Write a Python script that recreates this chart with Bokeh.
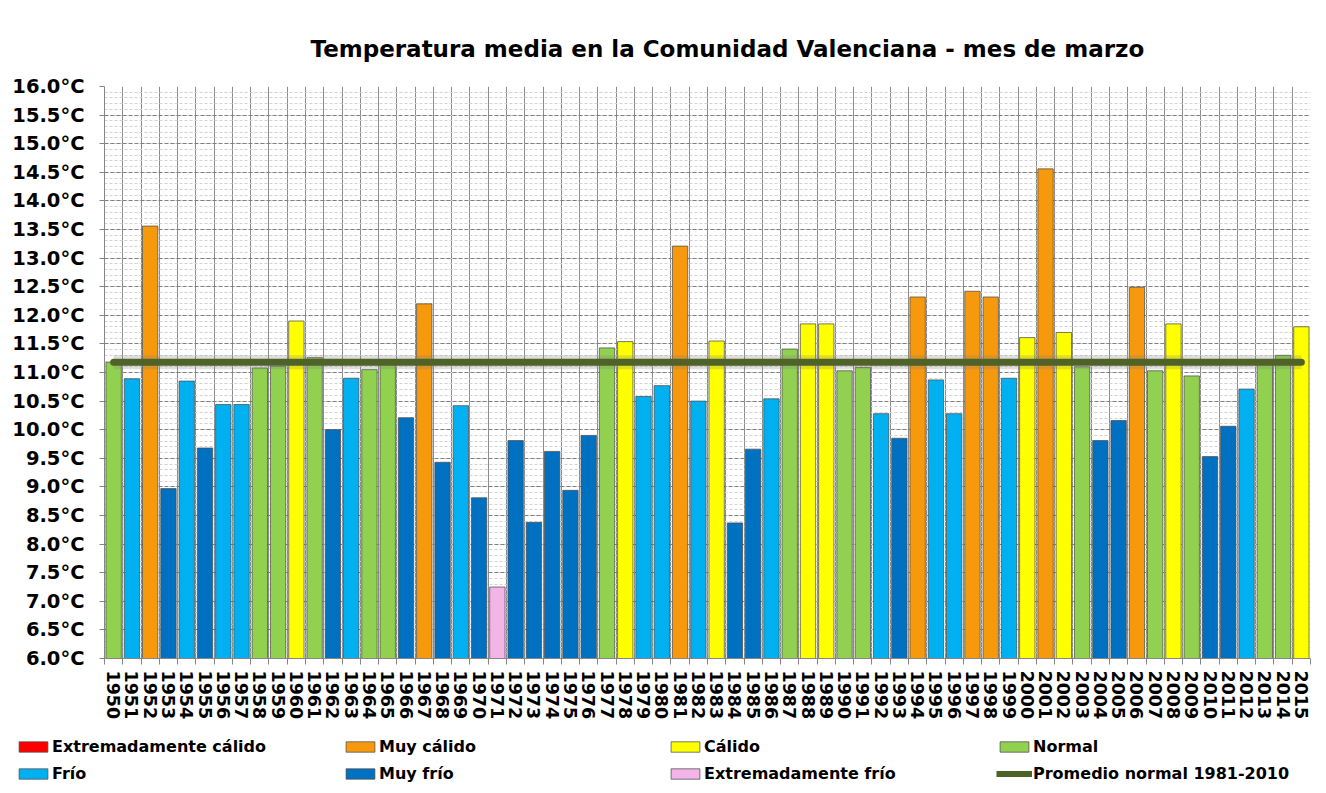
import math
from bokeh.plotting import figure
from bokeh.layouts import column
from bokeh.models import (ColumnDataSource, Range1d, FixedTicker, PrintfTickFormatter,
                          Legend, LegendItem)
from bokeh.embed import file_html
from bokeh.resources import INLINE

# ---------------- data ----------------
years = [1950, 1951, 1952, 1953, 1954, 1955, 1956, 1957, 1958, 1959,
         1960, 1961, 1962, 1963, 1964, 1965, 1966, 1967, 1968, 1969,
         1970, 1971, 1972, 1973, 1974, 1975, 1976, 1977, 1978, 1979,
         1980, 1981, 1982, 1983, 1984, 1985, 1986, 1987, 1988, 1989,
         1990, 1991, 1992, 1993, 1994, 1995, 1996, 1997, 1998, 1999,
         2000, 2001, 2002, 2003, 2004, 2005, 2006, 2007, 2008, 2009,
         2010, 2011, 2012, 2013, 2014, 2015]

temps = [11.18, 10.89, 13.56, 8.97, 10.85, 9.68, 10.44, 10.44, 11.08, 11.11,
         11.90, 11.26, 10.00, 10.90, 11.05, 11.16, 10.21, 12.20, 9.43, 10.42,
         8.81, 7.25, 9.81, 8.38, 9.62, 8.94, 9.90, 11.43, 11.54, 10.58,
         10.77, 13.21, 10.50, 11.55, 8.37, 9.66, 10.54, 11.41, 11.85, 11.85,
         11.03, 11.09, 10.28, 9.85, 12.32, 10.87, 10.28, 12.42, 12.32, 10.90,
         11.61, 14.56, 11.70, 11.10, 9.81, 10.16, 12.49, 11.03, 11.85, 10.94,
         9.53, 10.06, 10.71, 11.16, 11.30, 11.80]

classes = ["Normal", "Frío", "Muy cálido", "Muy frío", "Frío", "Muy frío", "Frío", "Frío", "Normal", "Normal",
           "Cálido", "Normal", "Muy frío", "Frío", "Normal", "Normal", "Muy frío", "Muy cálido", "Muy frío", "Frío",
           "Muy frío", "Extremadamente frío", "Muy frío", "Muy frío", "Muy frío", "Muy frío", "Muy frío", "Normal", "Cálido", "Frío",
           "Frío", "Muy cálido", "Frío", "Cálido", "Muy frío", "Muy frío", "Frío", "Normal", "Cálido", "Cálido",
           "Normal", "Normal", "Frío", "Muy frío", "Muy cálido", "Frío", "Frío", "Muy cálido", "Muy cálido", "Frío",
           "Cálido", "Muy cálido", "Cálido", "Normal", "Muy frío", "Muy frío", "Muy cálido", "Normal", "Cálido", "Normal",
           "Muy frío", "Muy frío", "Frío", "Normal", "Normal", "Cálido"]

normal_1981_2010 = 11.18
normal_label = "Promedio normal 1981-2010"

category_names = ["Extremadamente cálido", "Muy cálido", "Cálido", "Normal",
                  "Frío", "Muy frío", "Extremadamente frío"]
category_colors = ["#FF0000", "#F7990D", "#FFFF00", "#92D050",
                   "#00B0F0", "#0070C0", "#F3B4E8"]

y_ticks = [6.0, 6.5, 7.0, 7.5, 8.0, 8.5, 9.0, 9.5, 10.0, 10.5, 11.0,
           11.5, 12.0, 12.5, 13.0, 13.5, 14.0, 14.5, 15.0, 15.5, 16.0]
y_min, y_max = 6.0, 16.0

title_text = "Temperatura media en la Comunidad Valenciana - mes de marzo"

# ---------------- main chart ----------------
FONT = "DejaVu Sans"
W = 1318
FRAME_LEFT = 104
p = figure(width=W, height=735,
           x_range=Range1d(years[0] - 0.5, years[-1] + 0.5),
           y_range=Range1d(y_min, y_max),
           output_backend="svg", toolbar_location=None,
           min_border_left=FRAME_LEFT, min_border_right=8,
           min_border_top=86, min_border_bottom=77)
p.frame_align = False
p.background_fill_color = "white"
p.border_fill_color = "white"
p.outline_line_color = None

p.title.text = title_text
p.title.align = "left"
p.title.text_font = FONT
p.title.text_font_style = "bold"
p.title.text_font_size = "23px"
p.title.text_color = "#000000"
p.title.standoff = 50
p.title.offset = 206

y_minor = [round(y_min + 0.1 * i, 1) for i in range(int(round((y_max - y_min) / 0.1)) + 1)]
boundaries = [y - 0.5 for y in years] + [years[-1] + 0.5]

# y axis
p.yaxis.ticker = FixedTicker(ticks=y_ticks, minor_ticks=y_minor)
p.yaxis.formatter = PrintfTickFormatter(format="%.1f°C")
p.yaxis.major_label_text_font = FONT
p.yaxis.major_label_text_font_style = "bold"
p.yaxis.major_label_text_font_size = "19.5px"
p.yaxis.major_label_text_color = "#000000"
p.yaxis.major_tick_out = 5
p.yaxis.major_tick_in = 0
p.yaxis.minor_tick_out = 0
p.yaxis.minor_tick_in = 0
p.yaxis.major_label_standoff = 15
p.yaxis.axis_line_color = "#868686"
p.yaxis.major_tick_line_color = "#868686"

# x axis
p.xaxis.ticker = FixedTicker(ticks=years, minor_ticks=boundaries)
p.xaxis.formatter = PrintfTickFormatter(format="%d")
p.xaxis.major_label_orientation = -math.pi / 2
p.xaxis.major_label_text_font = FONT
p.xaxis.major_label_text_font_style = "bold"
p.xaxis.major_label_text_font_size = "17.5px"
p.xaxis.major_label_text_color = "#000000"
p.xaxis.major_tick_out = 0
p.xaxis.major_tick_in = 0
p.xaxis.minor_tick_out = 6
p.xaxis.minor_tick_in = 0
p.xaxis.minor_tick_line_color = "#868686"
p.xaxis.major_label_standoff = 6
p.xaxis.axis_line_color = "#868686"

# grids
p.xgrid.ticker = FixedTicker(ticks=boundaries)
p.xgrid.grid_line_color = "#8c8c8c"
p.xgrid.grid_line_width = 1
p.ygrid.grid_line_color = "#808080"
p.ygrid.grid_line_dash = "4 2"
p.ygrid.minor_grid_line_color = "#d2d2d2"
p.ygrid.minor_grid_line_dash = "3 2"

# bars
for name, color in zip(category_names, category_colors):
    xs = [y for y, c in zip(years, classes) if c == name]
    ts = [t for t, c in zip(temps, classes) if c == name]
    src = ColumnDataSource(dict(year=xs, temp=ts))
    p.vbar(x="year", top="temp", bottom=y_min, width=0.84, source=src,
           fill_color=color, line_color="#4d4d4d", line_alpha=0.75, line_width=1)

# normal line (soft shadow + line)
norm_src = ColumnDataSource(dict(year=years, val=[normal_1981_2010] * len(years)))
p.line(x="year", y="val", source=norm_src, line_color="#7f7f7f", line_alpha=0.25,
       line_width=14)
p.line(x="year", y="val", source=norm_src, line_color="#4F6228",
       line_width=7, line_cap="round")

# ---------------- legend strip ----------------
q = figure(width=W, height=58, x_range=Range1d(0, 1), y_range=Range1d(0, 1),
           output_backend="svg", toolbar_location=None,
           min_border_left=0, min_border_right=0, min_border_top=0, min_border_bottom=0,
           x_axis_type=None, y_axis_type=None)
q.frame_align = False
q.outline_line_color = None
q.background_fill_color = "white"
q.border_fill_color = "white"
q.grid.visible = False

# legend-only renderers: one element placed outside the visible range
leg_r = {}
for name, color in zip(category_names, category_colors):
    leg_r[name] = q.vbar(x=[-5], top=[-5], bottom=-6, width=0.5, fill_color=color,
                         line_color="#4d4d4d", line_alpha=0.75)
leg_r[normal_label] = q.line(x=[-6, -5], y=[-5, -5], line_color="#4F6228", line_width=6)

columns_ = [
    ["Extremadamente cálido", "Frío"],
    ["Muy cálido", "Muy frío"],
    ["Cálido", "Extremadamente frío"],
    ["Normal", normal_label],
]
col_x = [15, 342, 667, 996]
for cx, col in zip(col_x, columns_):
    leg = Legend(items=[LegendItem(label=lbl, renderers=[leg_r[lbl]]) for lbl in col],
                 location=(cx, 10), orientation="vertical",
                 padding=0, margin=0, spacing=8,
                 glyph_width=36, glyph_height=13, label_height=19,
                 label_standoff=1,
                 label_text_font=FONT, label_text_font_style="bold",
                 label_text_font_size="16px", label_text_color="#000000",
                 background_fill_alpha=0, border_line_color=None)
    q.add_layout(leg, "center")

layout = column(p, q)
open("out.html", "w").write(file_html(layout, INLINE))
